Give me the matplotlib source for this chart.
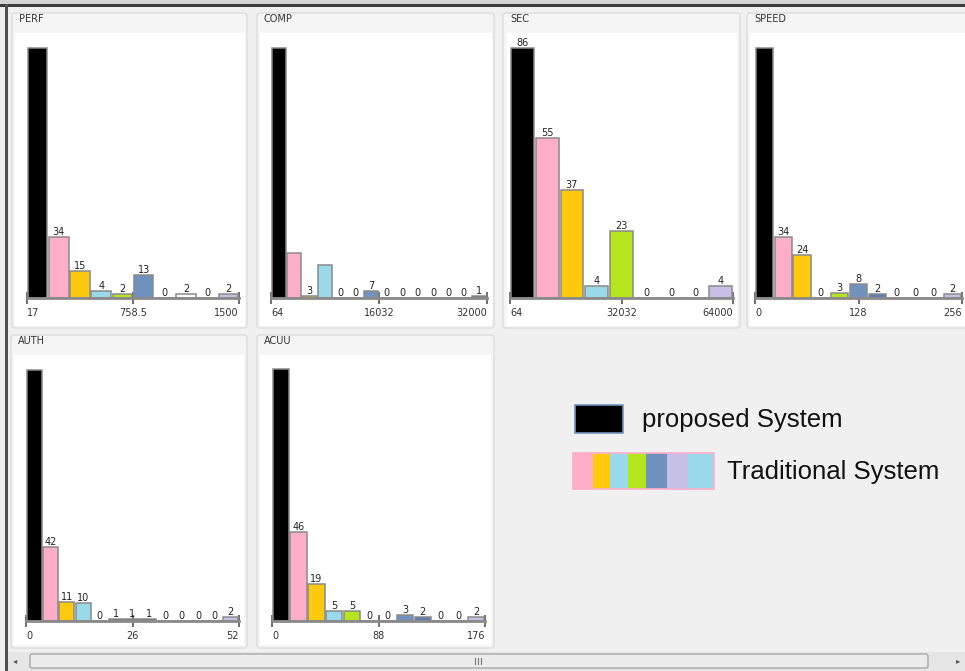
import matplotlib
matplotlib.use("Agg")
import matplotlib.pyplot as plt
from matplotlib.patches import Rectangle, FancyBboxPatch

# palette (bins are coloured one by one, first bin = proposed system)
K = '#000000'
P = '#FFAEC9'
Y = '#FFC90E'
C = '#99D9EA'
G = '#B5E61D'
B = '#7092BE'
B2 = '#5B7DB1'
L = '#C8BFE7'
W = '#FFFFFF'
D = '#6E6E6E'

#  DATA 
perf_vals = [139, 34, 15, 4, 2, 13, 0, 2, 0, 2]
perf_lbls = ['', '34', '15', '4', '2', '13', '0', '2', '0', '2']
perf_cols = [K, P, Y, C, G, B, W, W, W, L]
perf_ticks = ['17', '758.5', '1500']

comp_vals = [150, 27, 1, 20, 0, 0, 4, 0, 0, 0, 0, 0, 0, 1]
comp_lbls = ['', '', '3', '', '0', '0', '7', '0', '0', '0', '0', '0', '0', '1']
comp_cols = [K, P, Y, C, W, W, B, W, W, W, W, W, W, D]
comp_ticks = ['64', '16032', '32000']

sec_vals = [86, 55, 37, 4, 23, 0, 0, 0, 4]
sec_lbls = ['86', '55', '37', '4', '23', '0', '0', '0', '4']
sec_cols = [K, P, Y, C, G, W, W, W, L]
sec_ticks = ['64', '32032', '64000']

speed_vals = [139, 34, 24, 0, 3, 8, 2, 0, 0, 0, 2]
speed_lbls = ['', '34', '24', '0', '3', '8', '2', '0', '0', '0', '2']
speed_cols = [K, P, Y, W, G, B, B2, W, W, W, L]
speed_ticks = ['0', '128', '256']

auth_vals = [143, 42, 11, 10, 0, 1, 1, 1, 0, 0, 0, 0, 2]
auth_lbls = ['', '42', '11', '10', '0', '1', '1', '1', '0', '0', '0', '0', '2']
auth_cols = [K, P, Y, C, W, D, D, D, W, W, W, W, L]
auth_ticks = ['0', '26', '52']

acuu_vals = [130, 46, 19, 5, 5, 0, 0, 3, 2, 0, 0, 2]
acuu_lbls = ['', '46', '19', '5', '5', '0', '0', '3', '2', '0', '0', '2']
acuu_cols = [K, P, Y, C, G, W, W, B, B2, W, W, L]
acuu_ticks = ['0', '88', '176']

legend_names = ['proposed System', 'Traditional System']
legend_strip = [P, Y, C, G, B, L, C]

#  LAYOUT (pixels) 
FW, FH = 965, 671
BG = '#F0F0F0'
EDGE = '#8A8A8A'

fig = plt.figure(figsize=(FW / 100, FH / 100), dpi=100, facecolor=BG)

bg = fig.add_axes([0, 0, 1, 1])
bg.set_xlim(0, FW)
bg.set_ylim(FH, 0)
bg.axis('off')
bg.set_facecolor('none')

# window border
bg.add_patch(Rectangle((0, 0), FW, 5, fc='#D4D4D4', ec='none'))
bg.add_patch(Rectangle((0, 4), FW, 3, fc='#3C3C3C', ec='none'))
bg.add_patch(Rectangle((5, 4), 3, FH, fc='#505050', ec='none'))


def pxbox(x0, x1, yb, yt):
    return [x0 / FW, 1 - yb / FH, (x1 - x0) / FW, (yb - yt) / FH]


def panel(title, outer, white):
    x0, y0, x1, y1 = outer
    bg.add_patch(FancyBboxPatch((x0, y0), x1 - x0, y1 - y0,
                                boxstyle='round,pad=0,rounding_size=3',
                                fc='#F5F5F5', ec='#DCDCDC', lw=1))
    wx0, wy0, wx1, wy1 = white
    bg.add_patch(Rectangle((wx0, wy0), wx1 - wx0, wy1 - wy0, fc='white', ec='none'))
    bg.text(x0 + 7, y0 + 6, title, fontsize=7, color='#333333',
            ha='left', va='center', family='DejaVu Sans')


def histo(vals, lbls, cols, ticks, box):
    ax = fig.add_axes(pxbox(*box))
    ax.set_facecolor('none')
    n = len(vals)
    xs = range(n)
    ax.bar([x + 0.04 for x in xs], vals, width=0.92, align='edge',
           color=cols, edgecolor=EDGE, linewidth=1.1, clip_on=False, zorder=2)
    for x, v, t in zip(xs, vals, lbls):
        if t:
            ax.annotate(t, (x + 0.5, v), xytext=(0, 0), textcoords='offset points',
                        ha='center', va='bottom', fontsize=7, color='#222222',
                        annotation_clip=False)
    ax.axhline(0, color=EDGE, lw=2, zorder=3, clip_on=False)
    ax.set_xlim(0, n)
    ax.set_ylim(0, max(vals))
    for s in ax.spines.values():
        s.set_visible(False)
    ax.set_yticks([])
    ax.set_xticks([0, n / 2, n])
    ax.set_xticklabels(ticks, fontsize=7, color='#333333')
    ax.tick_params(axis='x', direction='inout', length=9, width=1.2,
                   color='#555555', pad=3)
    tl = ax.get_xticklabels()
    tl[0].set_ha('left')
    tl[2].set_ha('right')
    return ax


panel('PERF', (12, 13, 247, 328), (15, 33, 245, 326))
panel('COMP', (257, 13, 494, 328), (260, 33, 492, 326))
panel('SEC', (503, 13, 740, 328), (507, 33, 737, 326))
panel('SPEED', (747, 13, 975, 328), (750, 33, 972, 326))
panel('AUTH', (11, 335, 247, 648), (14, 355, 244, 645))
panel('ACUU', (257, 335, 494, 648), (260, 355, 491, 645))

histo(perf_vals, perf_lbls, perf_cols, perf_ticks, (27, 239, 298, 48))
histo(comp_vals, comp_lbls, comp_cols, comp_ticks, (271, 487, 298, 48))
histo(sec_vals, sec_lbls, sec_cols, sec_ticks, (510, 733, 298, 48))
histo(speed_vals, speed_lbls, speed_cols, speed_ticks, (755, 962, 298, 48))
histo(auth_vals, auth_lbls, auth_cols, auth_ticks, (26, 239, 621, 370))
histo(acuu_vals, acuu_lbls, acuu_cols, acuu_ticks, (272, 485, 621, 369))

#  LEGEND 
bg.add_patch(Rectangle((575, 405), 48, 28, fc=K, ec='#7092BE', lw=1.2))
bg.text(642, 420, legend_names[0], fontsize=18.5, family='Liberation Sans',
        color='#111111', ha='left', va='center')
seg_x = [573, 593, 610, 628, 646, 667, 688, 714]
for i, c in enumerate(legend_strip):
    bg.add_patch(Rectangle((seg_x[i], 453), seg_x[i + 1] - seg_x[i], 36, fc=c, ec='none'))
bg.add_patch(Rectangle((573, 453), 141, 36, fc='none', ec='#FFAEC9', lw=1.2))
bg.text(727, 472, legend_names[1], fontsize=18.5, family='Liberation Sans',
        color='#111111', ha='left', va='center')

#  SCROLLBAR 
bg.add_patch(Rectangle((8, 652), FW - 8, 19, fc='#E6E6E6', ec='none'))
bg.add_patch(FancyBboxPatch((30, 654), 898, 14, boxstyle='round,pad=0,rounding_size=2',
                            fc='#ECECEC', ec='#A8A8A8', lw=1))
for gx in (475, 478, 481):
    bg.plot([gx, gx], [658, 664], color='#777777', lw=0.8)
bg.text(15, 661, '\u25c2', fontsize=6, color='#555555', ha='center', va='center')
bg.text(958, 661, '\u25b8', fontsize=6, color='#555555', ha='center', va='center')

fig.savefig('out.png', dpi=100, facecolor=BG)
